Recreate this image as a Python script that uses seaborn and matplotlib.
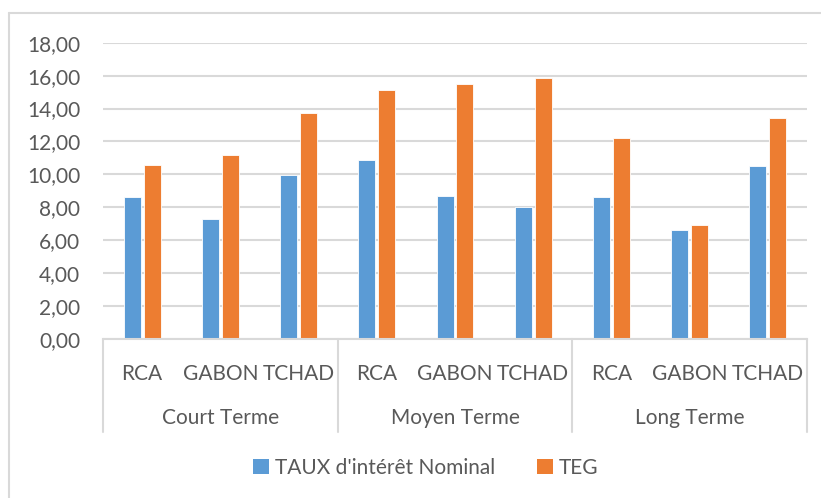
import matplotlib
matplotlib.use("Agg")
import matplotlib.pyplot as plt
import matplotlib.ticker as mticker
from matplotlib.lines import Line2D
from matplotlib.patches import Patch
import pandas as pd
import seaborn as sns

sns.set_style("white")
plt.rcParams['font.family'] = ['Lato', 'DejaVu Sans']

# data
terms = ["Court Terme", "Moyen Terme", "Long Terme"]
countries = ["RCA", "GABON", "TCHAD"]
taux_nominal = [8.60, 7.32, 9.97, 10.90, 8.68, 8.02, 8.64, 6.60, 10.50]
teg = [10.55, 11.20, 13.70, 15.10, 15.50, 15.88, 12.22, 6.93, 13.42]
series_names = ["TAUX d'intérêt Nominal", "TEG"]
colors = ["#5B9BD5", "#ED7D31"]

slots = [f"{t}|{c}" for t in terms for c in countries]
df = pd.DataFrame({
    "slot": slots * 2,
    "value": taux_nominal + teg,
    "serie": [series_names[0]] * 9 + [series_names[1]] * 9,
})

W, H = 821, 498
fs = 15
fig = plt.figure(figsize=(W / 100, H / 100), dpi=100)
ax = fig.add_axes([103 / W, 159 / H, 704 / W, 296.3 / H])

sns.barplot(data=df, x="slot", y="value", hue="serie", order=slots,
            palette=colors, saturation=1, width=0.51, gap=0.15, ax=ax,
            legend=False, edgecolor="white", linewidth=0.6)

txt = "#595959"
grid = "#D9D9D9"
ax.set_ylim(0, 18)
ax.set_xlim(-0.5, 8.5)
ax.yaxis.set_major_locator(mticker.MultipleLocator(2))
ax.yaxis.set_major_formatter(mticker.FuncFormatter(lambda v, p: f"{v:.2f}".replace(".", ",")))
ax.grid(axis="y", color=grid, linewidth=1.5)
ax.set_axisbelow(True)
for s in ["top", "right", "left"]:
    ax.spines[s].set_visible(False)
ax.spines["bottom"].set_color(grid)
ax.spines["bottom"].set_linewidth(1.5)
ax.set_xlabel("")
ax.set_ylabel("")
ax.set_xticks(range(9))
ax.set_xticklabels(countries * 3)
ax.tick_params(axis="x", length=0, pad=18, labelsize=fs, labelcolor=txt)
ax.tick_params(axis="y", length=0, pad=16.5, labelsize=fs, labelcolor=txt)

# multi-level category axis
sep_bottom = -(432 - 339) / 296.3
for xs in [-0.5, 2.5, 5.5, 8.5]:
    ax.add_line(Line2D([xs, xs], [0, sep_bottom], color=grid, linewidth=1.5,
                       transform=ax.get_xaxis_transform(), clip_on=False))
for i, t in enumerate(terms):
    ax.text(i * 3 + 1, -(418 - 339) / 296.3, t, ha="center", va="center",
            fontsize=fs, color=txt, transform=ax.get_xaxis_transform())

handles = [Patch(facecolor=c, edgecolor="none") for c in colors]
fig.legend(handles, series_names, loc="center", bbox_to_anchor=(426 / W, (H - 468) / H),
           ncol=2, frameon=False, fontsize=fs, labelcolor=txt,
           handlelength=0.75, handleheight=0.75, handletextpad=0.3, columnspacing=2.0)

# chart area border (left and top visible)
fig.add_artist(Line2D([8.5 / W, 8.5 / W], [0, (H - 13.5) / H], color=grid, linewidth=1.5))
fig.add_artist(Line2D([8.5 / W, 1], [(H - 13.5) / H, (H - 13.5) / H], color=grid, linewidth=1.5))

fig.savefig("out.png", dpi=100)
